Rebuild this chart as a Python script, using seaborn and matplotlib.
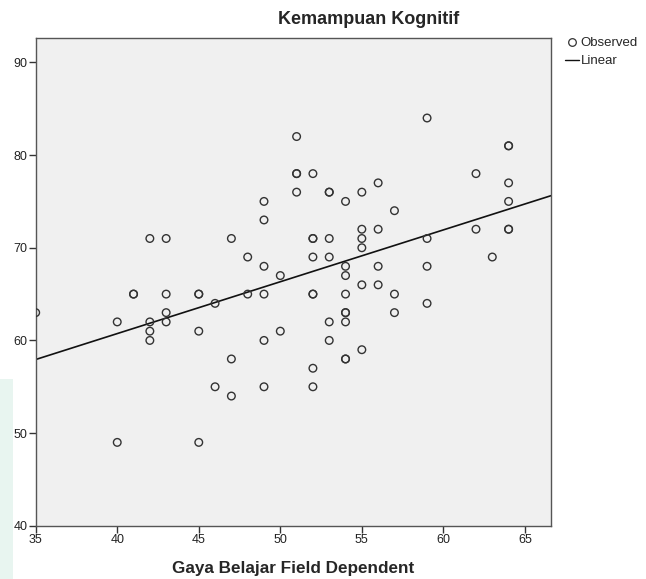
import matplotlib
matplotlib.use("Agg")
import matplotlib.pyplot as plt
from matplotlib.lines import Line2D
from matplotlib.patches import Rectangle
import seaborn as sns
import pandas as pd

# Data
gaya_belajar = [35, 40, 40, 41, 41, 42, 42, 42, 42, 43, 43, 43, 43, 45, 45, 45, 45,
                46, 46, 47, 47, 47, 48, 48, 49, 49, 49, 49, 49, 49, 50, 50,
                51, 51, 51, 51, 52, 52, 52, 52, 52, 52, 52, 52,
                53, 53, 53, 53, 53, 53, 54, 54, 54, 54, 54, 54, 54, 54, 54,
                55, 55, 55, 55, 55, 55, 56, 56, 56, 56, 57, 57, 57,
                59, 59, 59, 59, 62, 62, 63, 64, 64, 64, 64, 64, 64]
kognitif = [63, 62, 49, 65, 65, 71, 62, 61, 60, 71, 65, 63, 62, 65, 65, 61, 49,
            64, 55, 71, 58, 54, 69, 65, 75, 73, 68, 65, 60, 55, 67, 61,
            82, 78, 78, 76, 78, 71, 71, 69, 65, 65, 57, 55,
            76, 76, 71, 69, 62, 60, 75, 68, 67, 65, 63, 63, 62, 58, 58,
            76, 72, 71, 70, 66, 59, 77, 72, 68, 66, 74, 65, 63,
            84, 71, 68, 64, 78, 72, 69, 81, 81, 77, 75, 72, 72]
x_ticks = [35, 40, 45, 50, 55, 60, 65]
y_ticks = [40, 50, 60, 70, 80, 90]

df = pd.DataFrame({"x": gaya_belajar, "y": kognitif})

sns.set_style("white")
plt.rcParams["font.family"] = ["Liberation Sans", "DejaVu Sans"]

fig = plt.figure(figsize=(6.46, 5.79), dpi=100)

# faint watermark tint at the left edge
fig.patches.append(Rectangle((0, 0), 13 / 646, 200 / 579, transform=fig.transFigure,
                             facecolor="#e8f5f0", edgecolor="none", zorder=0))

ax = fig.add_axes([35.7 / 646, 1 - 525.8 / 579, (551 - 35.7) / 646, (525.8 - 38.3) / 579])
ax.set_facecolor("#f0f0f0")
ax.set_xlim(35, 66.6)
ax.set_ylim(40, 92.6)

sns.regplot(data=df, x="x", y="y", ax=ax, scatter=False, ci=None, truncate=False,
            line_kws=dict(color="#111111", lw=1.2))
sns.scatterplot(data=df, x="x", y="y", ax=ax, s=30, facecolor="none",
                edgecolor="#333333", linewidth=1.0, zorder=3)

ax.set_xticks(x_ticks)
ax.set_yticks(y_ticks)
ax.tick_params(axis="both", which="major", direction="out", length=5, width=1,
               color="#333333", labelsize=9, labelcolor="#222222", pad=1,
               left=True, bottom=True)
for sp in ax.spines.values():
    sp.set_color("#555555")
    sp.set_linewidth(1.0)

ax.set_xlabel("Gaya Belajar Field Dependent", fontsize=12.3, fontweight="bold", labelpad=11)
ax.set_ylabel("")
fig.text(369 / 646, 1 - 20 / 579, "Kemampuan Kognitif", ha="center", va="center",
         fontsize=13, fontweight="bold")

handles = [Line2D([], [], marker="o", linestyle="none", markerfacecolor="none",
                  markeredgecolor="#333333", markersize=5.5, markeredgewidth=0.9),
           Line2D([], [], color="#111111", lw=1.0)]
fig.legend(handles, ["Observed", "Linear"], loc="upper left",
           bbox_to_anchor=(565 / 646, 1 - 37 / 579), frameon=False, fontsize=9.5,
           handlelength=1.05, handletextpad=0.12, labelspacing=0.45,
           borderaxespad=0, borderpad=0)

fig.savefig("out.png", dpi=100)
